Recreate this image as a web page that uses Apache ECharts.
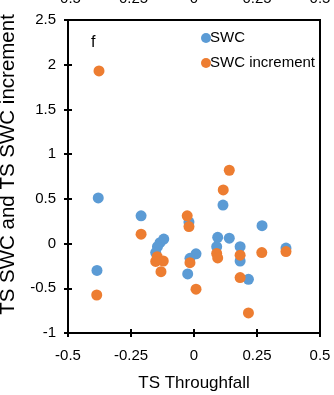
<!DOCTYPE html>
<html>
<head>
<meta charset="utf-8">
<script src="https://cdn.jsdelivr.net/npm/echarts@6/dist/echarts.min.js"></script>
<style>
html,body{margin:0;padding:0;background:#fff;}
#chart{width:334px;height:395px;}
</style>
</head>
<body>
<div id="chart"></div>
<script>
// Data
var seriesNames = ['SWC', 'SWC increment'];
var swcX = [-0.38, -0.385, -0.21, -0.12, -0.135, -0.145, -0.152, -0.02, 0.008, -0.016, -0.025, 0.115, 0.27, 0.094, 0.14, 0.09, 0.183, 0.365, 0.183, 0.216];
var swcY = [0.51, -0.30, 0.31, 0.05, 0.01, -0.035, -0.10, 0.24, -0.115, -0.165, -0.34, 0.43, 0.20, 0.07, 0.06, -0.035, -0.035, -0.05, -0.195, -0.40];
var incX = [-0.377, -0.386, -0.21, -0.146, -0.122, -0.131, -0.152, -0.027, -0.02, -0.016, 0.008, 0.14, 0.116, 0.365, 0.269, 0.09, 0.094, 0.183, 0.183, 0.216];
var incY = [1.93, -0.575, 0.105, -0.147, -0.195, -0.314, -0.20, 0.31, 0.19, -0.214, -0.51, 0.82, 0.60, -0.09, -0.10, -0.11, -0.16, -0.13, -0.38, -0.775];
var xTicks = [-0.5, -0.25, 0, 0.25, 0.5];
var yTicks = [-1, -0.5, 0, 0.5, 1, 1.5, 2, 2.5];
var panelLabel = 'f';
var xName = 'TS Throughfall';
var yName = 'TS SWC and TS SWC increment';

function pairs(xs, ys) { return xs.map(function (x, i) { return [x, ys[i]]; }); }

var FONT = '"Liberation Sans", Arial, sans-serif';
var chart = echarts.init(document.getElementById('chart'), null, {renderer: 'canvas'});
var xMin = xTicks[0], xMax = xTicks[xTicks.length - 1], xInt = xTicks[1] - xTicks[0];
var yMin = yTicks[0], yMax = yTicks[yTicks.length - 1], yInt = yTicks[1] - yTicks[0];

chart.setOption({
  animation: false,
  backgroundColor: '#fff',
  title: {
    text: panelLabel, left: 86, top: 30,
    textStyle: {fontFamily: FONT, fontSize: 16, fontWeight: 'normal', color: '#000'}
  },
  legend: {
    orient: 'vertical', left: 196, top: 25,
    itemWidth: 10, itemHeight: 10, itemGap: 9,
    icon: 'circle',
    data: seriesNames,
    textStyle: {fontFamily: FONT, fontSize: 15, color: '#000', padding: [0, 0, 0, -6], lineHeight: 16}
  },
  grid: {left: 68, right: 14, top: 20, bottom: 62, containLabel: false, outerBoundsMode: 'none',
    show: true, borderColor: '#000', borderWidth: 2, backgroundColor: 'transparent'},
  xAxis: [{
    type: 'value', min: xMin, max: xMax, interval: xInt, position: 'bottom',
    name: xName, nameLocation: 'middle', nameGap: 42,
    nameTextStyle: {fontFamily: FONT, fontSize: 17, color: '#000'},
    axisLine: {show: true, onZero: false, lineStyle: {color: '#000', width: 2}},
    axisTick: {show: true, inside: false, length: 4, lineStyle: {color: '#000', width: 2}},
    axisLabel: {margin: 15, fontFamily: FONT, fontSize: 15, color: '#000'},
    splitLine: {show: false}
  }, {
    type: 'value', min: xMin, max: xMax, interval: xInt, position: 'bottom', gridIndex: 0,
    axisLine: {show: false, onZero: false}, axisLabel: {show: false}, splitLine: {show: false},
    axisTick: {show: true, inside: true, length: 4, lineStyle: {color: '#000', width: 2}}
  }, {
    type: 'value', min: xMin, max: xMax, interval: xInt, position: 'top', gridIndex: 0,
    axisLine: {show: false, onZero: false}, axisTick: {show: false}, splitLine: {show: false},
    axisLabel: {margin: 14, fontFamily: FONT, fontSize: 15, color: '#000'}
  }],
  yAxis: [{
    type: 'value', min: yMin, max: yMax, interval: yInt, position: 'left',
    name: yName, nameLocation: 'middle', nameGap: 42,
    nameTextStyle: {fontFamily: FONT, fontSize: 20.5, color: '#000', padding: [0, 0, 0, 24]},
    axisLine: {show: true, onZero: false, lineStyle: {color: '#000', width: 2}},
    axisTick: {show: true, inside: false, length: 4, lineStyle: {color: '#000', width: 2}},
    axisLabel: {margin: 12, fontFamily: FONT, fontSize: 15, color: '#000'},
    splitLine: {show: false}
  }, {
    type: 'value', min: yMin, max: yMax, interval: yInt, position: 'left', offset: 0,
    axisLine: {show: false, onZero: false}, axisLabel: {show: false}, splitLine: {show: false},
    axisTick: {show: true, inside: true, length: 4, lineStyle: {color: '#000', width: 2}}
  }],
  series: [{
    name: seriesNames[0], type: 'scatter', xAxisIndex: 0, yAxisIndex: 0,
    symbolSize: 11, itemStyle: {color: '#5B9BD5', opacity: 1},
    data: pairs(swcX, swcY), z: 3
  }, {
    name: seriesNames[1], type: 'scatter', xAxisIndex: 0, yAxisIndex: 0,
    symbolSize: 11, itemStyle: {color: '#ED7D31', opacity: 1},
    data: pairs(incX, incY), z: 4
  }]
});
</script>
</body>
</html>
